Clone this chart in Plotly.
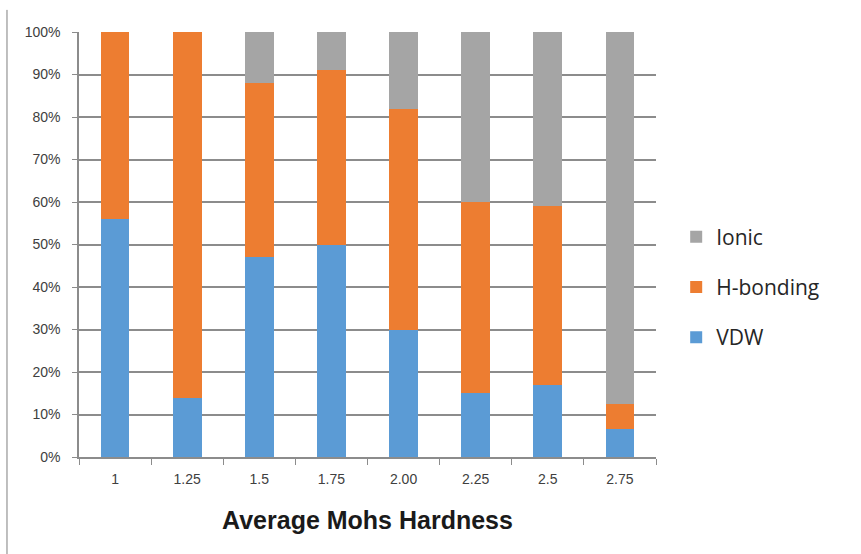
import plotly.graph_objects as go

# Average Mohs hardness groups and bonding-type share (percent)
hardness = ["1", "1.25", "1.5", "1.75", "2.00", "2.25", "2.5", "2.75"]
vdw = [56, 14, 47, 50, 30, 15, 17, 6.5]
h_bonding = [44, 86, 41, 41, 52, 45, 42, 6]
ionic = [0, 0, 12, 9, 18, 40, 41, 87.5]

# (name, values, colour, legend position) -- stacked bottom to top
series = [
    ("VDW", vdw, "#5b9bd5", 3),
    ("H-bonding", h_bonding, "#ed7d31", 2),
    ("Ionic", ionic, "#a5a5a5", 1),
]

fig = go.Figure()
for name, vals, color, rank in series:
    fig.add_trace(go.Bar(
        x=hardness, y=vals, name=name, legendgroup=name, legendrank=rank,
        marker=dict(color=color, line=dict(width=0)),
    ))

axis_font = dict(family="Liberation Sans, Arial, sans-serif", size=14, color="#404040")

fig.update_layout(
    barmode="stack",
    barnorm="percent",
    bargap=0.6,
    width=861, height=554,
    margin=dict(l=79, r=205, t=32, b=97),
    paper_bgcolor="white",
    plot_bgcolor="white",
    font=axis_font,
    legend=dict(
        traceorder="grouped",
        x=1.035, y=0.40, xanchor="left", yanchor="middle",
        font=dict(family="Open Sans, sans-serif", size=21, color="#262626"),
        itemwidth=30,
        tracegroupgap=20,
        bgcolor="rgba(0,0,0,0)",
    ),
    xaxis=dict(
        type="category",
        showgrid=False,
        showline=True, linecolor="#8c8c8c", linewidth=1.5,
        ticks="outside", tickson="boundaries", ticklen=6, tickcolor="#8c8c8c",
        tickfont=axis_font,
        ticklabelstandoff=8,
        title=dict(
            text="<b>Average Mohs Hardness</b>",
            font=dict(family="Liberation Sans Narrow, Arial, sans-serif", size=25, color="#1a1a1a"),
            standoff=26,
        ),
    ),
    yaxis=dict(
        range=[0, 100],
        dtick=10,
        ticksuffix="%",
        showgrid=True, gridcolor="#8c8c8c", gridwidth=1.5,
        showline=True, linecolor="#8c8c8c", linewidth=1.5,
        ticks="outside", ticklen=5, tickcolor="#8c8c8c",
        tickfont=axis_font,
        ticklabelstandoff=9,
        zeroline=False,
    ),
)

# thin frame line on the left edge of the page
fig.add_shape(type="line", xref="paper", yref="paper",
              x0=-0.1248, x1=-0.1248, y0=-0.23, y1=1.052,
              line=dict(color="#7f7f7f", width=1))

fig.write_html("out.html")
